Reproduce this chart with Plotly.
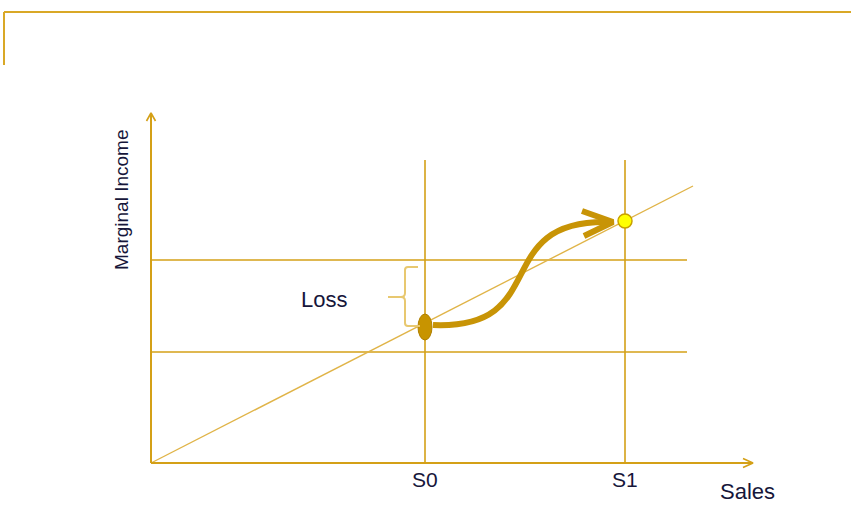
import plotly.graph_objects as go

# ---- data (diagram units: origin at the axes corner) ----
sales_labels = ["S0", "S1"]
sales_values = [2.74, 4.74]
income_at_sales = [1.36, 2.42]
income_levels = [1.11, 2.03]          # the two horizontal reference levels
trend_x = [0.0, 5.42]                 # marginal income line
trend_y = [0.0, 2.77]
x_axis_end = 6.02
y_axis_end = 3.50
hline_end = 5.36
vline_top = 3.03
# S-shaped move from S0 to S1 (cubic Bezier control points)
move_curve_x = [2.82, 4.02, 3.38, 4.55]
move_curve_y = [1.38, 1.33, 2.42, 2.41]
move_head_x = [4.31, 4.62, 4.33]
move_head_y = [2.52, 2.41, 2.27]
loss_label = "Loss"
x_title = "Sales"
y_title = "Marginal Income"

GOLD = "#D4A017"
GOLD_LIGHT = "#E0B448"
GOLD_DARK = "#C89406"
BRACE = "#E8C870"
TEXT = "#16163A"
FONT = "Liberation Sans, Arial, sans-serif"

fig = go.Figure()

def seg(xs, ys, color, width):
    fig.add_trace(go.Scatter(x=xs, y=ys, mode="lines",
                             line=dict(color=color, width=width),
                             hoverinfo="skip", showlegend=False))

# reference levels
for lv in income_levels:
    seg([0, hline_end], [lv, lv], GOLD, 1.6)
# vertical sales lines
for sv in sales_values:
    seg([sv, sv], [0, vline_top], GOLD, 1.6)
# trend line
seg(trend_x, trend_y, GOLD_LIGHT, 1.4)
# axes
seg([0, x_axis_end], [0, 0], GOLD, 2)
seg([0, 0], [0, y_axis_end], GOLD, 2)
# axis arrowheads
seg([x_axis_end - 0.10, x_axis_end, x_axis_end - 0.10], [0.045, 0, -0.045], GOLD, 1.6)
seg([-0.045, 0, 0.045], [y_axis_end - 0.08, y_axis_end, y_axis_end - 0.08], GOLD, 1.6)

# moving curve
path = "M {},{} C {},{} {},{} {},{}".format(
    move_curve_x[0], move_curve_y[0], move_curve_x[1], move_curve_y[1],
    move_curve_x[2], move_curve_y[2], move_curve_x[3], move_curve_y[3])
fig.add_shape(type="path", path=path, xref="x", yref="y",
              line=dict(color=GOLD_DARK, width=6))
seg(move_head_x, move_head_y, GOLD_DARK, 6)

# S0 ellipse
fig.add_shape(type="circle", xref="x", yref="y",
              x0=sales_values[0] - 0.07, x1=sales_values[0] + 0.07,
              y0=income_at_sales[0] - 0.13, y1=income_at_sales[0] + 0.13,
              fillcolor="#C89400", line=dict(color="#B08000", width=1))
# S1 point
fig.add_trace(go.Scatter(x=[sales_values[1]], y=[income_at_sales[1]], mode="markers",
                         marker=dict(size=14, color="#FFFF00",
                                     line=dict(color="#C8A000", width=1.5)),
                         hoverinfo="skip", showlegend=False))

# Loss brace
xb = 2.54
top = income_levels[1] - 0.07
bot = income_at_sales[0] + 0.01
mid = 1.66
brace = (f"M 2.67,{top} L {xb+0.03},{top} Q {xb},{top} {xb},{top-0.03} "
         f"L {xb},{mid+0.04} Q {xb},{mid} {xb-0.04},{mid} L 2.37,{mid} "
         f"M {xb-0.04},{mid} Q {xb},{mid} {xb},{mid-0.04} "
         f"L {xb},{bot+0.03} Q {xb},{bot} {xb+0.03},{bot} L 2.69,{bot}")
fig.add_shape(type="path", path=brace, xref="x", yref="y",
              line=dict(color=BRACE, width=2))

# text
fig.add_annotation(x=1.73, y=1.64, text=loss_label, showarrow=False,
                   font=dict(family=FONT, size=22, color=TEXT))
for lab, sv in zip(sales_labels, sales_values):
    fig.add_annotation(x=sv, y=-0.16, text=lab, showarrow=False,
                       font=dict(family=FONT, size=21, color=TEXT))
fig.add_annotation(x=5.96, y=-0.28, text=x_title, showarrow=False,
                   font=dict(family=FONT, size=22, color=TEXT))
fig.add_annotation(x=-0.30, y=2.63, text=y_title, showarrow=False, textangle=-90,
                   font=dict(family=FONT, size=19, color=TEXT))

# frame at top-left
fy = 1 - 12 / 513
fx = 4 / 851
fig.add_shape(type="line", xref="paper", yref="paper", x0=fx, x1=1, y0=fy, y1=fy,
              line=dict(color="#D9A826", width=2))
fig.add_shape(type="line", xref="paper", yref="paper", x0=fx, x1=fx, y0=fy, y1=1 - 65 / 513,
              line=dict(color="#D9A826", width=2))

fig.update_layout(
    width=851, height=513,
    margin=dict(l=0, r=0, t=0, b=0),
    paper_bgcolor="white", plot_bgcolor="white",
    xaxis=dict(range=[-1.51, 7.00], visible=False, fixedrange=True),
    yaxis=dict(range=[-0.50, 4.63], visible=False, fixedrange=True),
)

fig.write_html("out.html")
